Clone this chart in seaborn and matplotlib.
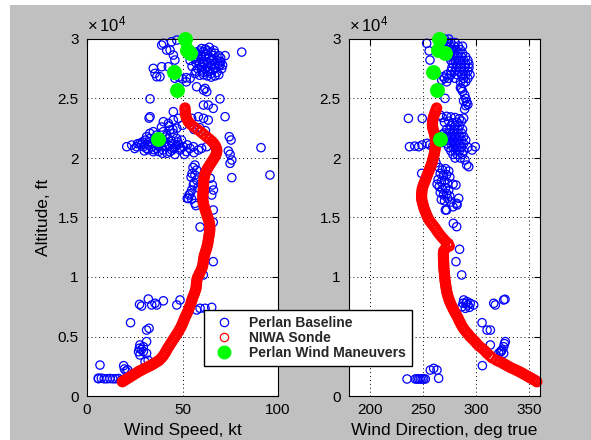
import matplotlib
matplotlib.use("Agg")
import matplotlib.pyplot as plt
from matplotlib.lines import Line2D
from matplotlib.patches import Rectangle
import seaborn as sns

# ---------------- data ----------------
# NIWA radiosonde profile: altitude (ft), wind speed (kt), wind direction (deg true)
sonde_alt = [
    1200, 1300, 1400, 1500, 1600, 1700, 1800, 1900, 2000, 2100,
    2200, 2300, 2400, 2500, 2600, 2700, 2800, 2900, 3000, 3200,
    3400, 3600, 3800, 4000, 4200, 4400, 4600, 4800, 5000, 5200,
    5400, 5600, 5800, 6000, 6200, 6400, 6600, 6800, 7000, 7200,
    7400, 7600, 7800, 8000, 8200, 8400, 8600, 8800, 9000, 9200,
    9400, 9600, 9800, 10000, 10200, 10400, 10600, 10800, 11000, 11200,
    11400, 11600, 11800, 12000, 12200, 12400, 12600, 12800, 13000, 13200,
    13400, 13600, 13800, 14000, 14200, 14400, 14600, 14800, 15000, 15200,
    15400, 15600, 15800, 16000, 16200, 16400, 16600, 16800, 17000, 17200,
    17400, 17600, 17800, 18000, 18200, 18400, 18600, 18800, 19000, 19200,
    19400, 19600, 19800, 20000, 20200, 20400, 20600, 20800, 21000, 21200,
    21400, 21600, 21800, 22000, 22200, 22400, 22600, 22800, 23000, 23200,
    23400, 23600, 23800, 24000, 24200]
sonde_speed = [
    18.5, 19.5, 20.5, 21.5, 22.5, 23.5, 24.5, 25.5, 26.5, 27.5,
    28.8, 30.0, 31.3, 32.5, 33.7, 34.8, 35.8, 36.8, 37.8, 39.0,
    40.0, 40.8, 41.5, 42.2, 43.0, 43.8, 44.6, 45.4, 46.2, 47.0,
    47.8, 48.5, 49.2, 49.8, 50.3, 50.8, 51.3, 51.9, 52.5, 53.0,
    53.5, 54.0, 54.4, 54.8, 55.2, 55.7, 56.2, 56.6, 57.0, 57.2,
    57.3, 57.4, 57.6, 58.0, 58.6, 59.2, 59.8, 60.3, 60.6, 60.8,
    61.0, 61.2, 61.4, 61.8, 62.2, 62.6, 62.9, 63.2, 63.4, 63.6,
    63.8, 64.0, 64.2, 64.3, 64.3, 64.2, 64.0, 63.6, 63.2, 62.8,
    62.4, 62.0, 61.6, 61.2, 60.9, 60.7, 60.6, 60.6, 60.7, 60.8,
    60.9, 61.0, 61.0, 61.1, 61.2, 61.4, 61.7, 62.1, 62.7, 63.4,
    64.2, 65.0, 65.8, 66.6, 67.3, 67.8, 68.0, 67.8, 67.3, 66.5,
    65.4, 64.0, 62.5, 61.0, 59.5, 57.8, 56.0, 54.5, 53.3, 52.5,
    52.0, 51.7, 51.5, 51.4, 51.3]
sonde_dir = [
    357.0, 355.5, 353.5, 351.5, 349.5, 347.5, 345.5, 343.5, 341.5, 339.3,
    337.0, 334.5, 332.0, 330.0, 328.0, 326.0, 324.0, 321.5, 319.0, 315.0,
    312.5, 310.0, 308.0, 305.5, 302.5, 300.5, 298.5, 296.3, 294.0, 292.3,
    290.3, 288.5, 287.0, 285.8, 284.6, 283.5, 282.5, 281.3, 280.0, 278.8,
    277.7, 276.6, 275.6, 274.7, 273.9, 273.2, 272.6, 272.1, 271.7, 271.3,
    271.0, 270.7, 270.4, 270.2, 270.0, 269.8, 269.6, 269.4, 269.3, 269.2,
    269.1, 269.0, 269.0, 269.0, 269.3, 271.0, 274.5, 273.5, 271.0, 269.0,
    267.0, 265.2, 263.5, 262.0, 260.5, 258.8, 257.0, 255.5, 254.2, 253.2,
    252.3, 251.4, 250.6, 250.0, 249.4, 248.8, 248.5, 248.4, 248.5, 248.7,
    249.0, 249.6, 250.4, 251.3, 252.2, 253.0, 253.9, 254.8, 255.7, 256.6,
    257.4, 258.1, 258.8, 259.4, 260.0, 260.5, 260.9, 261.2, 261.4, 261.5,
    261.5, 261.4, 261.1, 260.6, 260.0, 259.3, 258.8, 258.6, 258.7, 259.0,
    259.5, 260.2, 261.0, 261.8, 262.6]

# Perlan baseline measurements: (wind speed kt, altitude ft)
baseline_speed_pts = [
    (6.0, 1450), (7.5, 1500), (9.0, 1450), (10.5, 1450), (12.0, 1470), (13.5, 1450),
    (15.0, 1450), (16.5, 1470), (18.0, 1350), (6.8, 2600), (19.2, 2550), (19.6, 2270),
    (20.5, 2100), (21.3, 2200), (5.9, 1500),
    (30.4, 2880), (32.0, 3000), (27.7, 3450), (27.0, 3720), (29.5, 3730), (27.4, 4010),
    (29.5, 4140), (27.7, 4290), (31.2, 4570), (31.2, 5540), (32.5, 5690), (22.8, 6160),
    (31.2, 3590), (28.5, 3900),
    (28.6, 7560), (32.1, 8150), (33.9, 7650), (35.6, 7790), (36.5, 7650), (40.0, 8000),
    (47.0, 7650), (48.7, 8070), (57.4, 7230), (59.2, 7370), (61.8, 7370), (65.3, 7450),
    (27.5, 7700),
    (60.9, 10170), (66.1, 11290), (59.2, 14200), (66.1, 14600), (66.1, 15630),
    (56.5, 19410), (57.4, 18990), (56.5, 18570), (57.4, 18150), (55.7, 17730),
    (54.8, 17310), (53.4, 16890), (54.8, 16550), (56.5, 16190), (55.0, 18700),
    (54.0, 17000), (53.0, 16600), (58.0, 17500), (57.0, 16000), (55.5, 19200),
    (52.5, 16610), (56.0, 17900), (54.5, 18400), (65.6, 17730), (66.2, 17310),
    (65.3, 16890), (64.5, 18300),
    (74.5, 21790), (75.4, 21510), (74.0, 20590), (74.9, 20310), (75.8, 19830),
    (74.9, 19550), (75.8, 18350), (91.1, 20870), (95.8, 18570),
    (20.8, 20950), (23.4, 21090), (26.0, 20950), (27.7, 21230), (29.5, 20950),
    (31.2, 20810), (32.9, 21370), (33.8, 20950), (34.7, 20530), (36.5, 20810),
    (38.2, 21230), (39.9, 20670), (41.7, 20950), (43.4, 20530), (45.2, 20810),
    (46.9, 21090), (48.7, 20670), (50.4, 20950), (52.2, 20530), (53.9, 20810),
    (55.7, 20950), (58.3, 20670), (60.0, 20810), (62.7, 20950),
    (31.2, 21790), (32.9, 22070), (34.7, 22210), (36.5, 21930), (38.2, 21650),
    (39.9, 22210), (41.7, 21930), (43.4, 22350), (45.2, 22070), (46.9, 21650),
    (28.5, 21100), (30.5, 21500), (35.5, 21400), (37.5, 21000), (40.5, 21300),
    (42.5, 21600), (44.5, 21200), (47.5, 21350), (49.5, 21500), (25.0, 20800),
    (30.0, 20600), (35.0, 20700), (42.0, 20400), (46.0, 20300), (51.0, 20300),
    (56.0, 20450),
    (26.5, 21200), (29.0, 21350), (31.5, 21150), (33.0, 21650), (34.0, 21200),
    (36.0, 21550), (37.0, 21250), (39.0, 20950), (40.0, 21500), (41.0, 21750),
    (43.0, 21050), (44.0, 21450), (46.0, 20900), (48.0, 21150), (32.0, 20700),
    (37.5, 20550), (39.5, 20400), (44.5, 20650), (49.0, 20850), (52.5, 21100),
    (39.0, 22600), (43.0, 22700), (47.0, 22500), (50.0, 22750), (45.0, 22400),
    (56.0, 22400), (59.0, 22550), (62.0, 22300),
    (33.0, 23470), (32.5, 23350), (40.0, 23050), (42.6, 22910), (45.2, 23190),
    (47.8, 23330), (54.8, 23330), (58.3, 23470), (61.0, 23330), (63.5, 23190),
    (72.3, 23470), (45.2, 23890),
    (57.0, 28900), (59.0, 29000), (61.0, 28950), (63.0, 29000), (65.0, 28900),
    (67.0, 28800), (69.0, 28600), (56.0, 28500), (58.0, 28400), (60.0, 28300),
    (62.0, 28500), (64.0, 28400), (66.0, 28300), (68.0, 28200), (70.0, 28100),
    (57.0, 28000), (59.0, 27900), (61.0, 27950), (63.0, 28000), (65.0, 27800),
    (67.0, 27900), (69.0, 27700), (70.5, 27500), (58.0, 27500), (60.0, 27400),
    (62.0, 27500), (64.0, 27300), (66.0, 27400), (68.0, 27200), (56.5, 27100),
    (59.0, 26950), (61.0, 27000), (63.0, 26900), (65.0, 26800), (67.0, 26900),
    (60.0, 29200), (64.0, 29300), (55.0, 27700), (54.0, 28200),
    (58.0, 28700), (62.0, 28750), (66.0, 28600), (70.0, 28400), (57.5, 28200),
    (61.0, 28100), (65.0, 28150), (69.0, 27950), (60.0, 27700), (63.0, 27650),
    (67.0, 27550), (71.0, 27800), (57.0, 27300), (61.0, 27200), (65.0, 27100),
    (69.0, 27000), (63.0, 27250), (59.5, 28600), (66.5, 29050), (62.0, 29150),
    (46.0, 26700), (48.0, 26800), (50.0, 26650), (52.0, 26750), (54.0, 26700),
    (40.0, 29640), (44.3, 29770), (47.0, 29910), (43.5, 29070), (45.2, 28650),
    (46.0, 28230), (42.6, 27670), (46.1, 27390), (34.7, 27530), (35.6, 27110),
    (36.5, 26830), (39.1, 27670), (38.2, 26830), (81.0, 28900), (72.3, 28600),
    (69.6, 27810), (57.4, 25990), (61.0, 25710), (61.8, 25850), (62.7, 25570),
    (33.0, 24970), (69.6, 24970), (63.5, 24450), (66.1, 24170), (61.0, 24450),
    (41.7, 29070), (39.1, 29490), (52.0, 26400),
]

# Perlan baseline measurements: (wind direction deg, altitude ft)
baseline_dir_pts = [
    (234.7, 1430), (242.5, 1430), (244.2, 1430), (245.7, 1430), (247.2, 1430),
    (248.8, 1430), (250.4, 1430), (251.9, 1430), (256.6, 2180), (259.8, 2320),
    (262.9, 2180), (264.5, 1490),
    (305.7, 2550), (313.2, 4290), (327.3, 4570), (325.8, 4140), (324.2, 3870),
    (322.6, 3720), (325.8, 3590), (321.1, 3590), (305.4, 6160), (310.1, 5540),
    (313.2, 5540), (326.5, 4400), (323.5, 3750),
    (288.1, 8070), (291.2, 7930), (294.3, 7790), (286.5, 7500), (289.6, 7370),
    (297.5, 7650), (292.0, 7650), (290.0, 7800), (316.4, 7790), (317.9, 7650),
    (325.8, 8070), (327.0, 8130), (293.5, 7450), (287.5, 7800),
    (286.2, 10170), (280.8, 11290), (284.2, 12330), (278.3, 14510), (281.5, 14230),
    (265, 19200), (268, 19000), (271, 19100), (274, 18900), (266, 18700),
    (269, 18500), (272, 18600), (275, 18400), (264, 18200), (267, 18000),
    (270, 18100), (273, 17900), (265, 17600), (268, 17400), (271, 17500),
    (274, 17300), (266, 17100), (269, 16900), (272, 17000), (275, 16800),
    (267, 16500), (270, 16400), (273, 16600), (276, 16300), (278, 17800),
    (280.8, 17730), (281.5, 16190), (283.4, 16610), (281.8, 16050), (270.8, 15630),
    (272, 15630), (278, 15900), (248.5, 18710), (289.3, 19830), (290.9, 19410),
    (292.8, 19270), (262, 19600), (263, 17800),
    (276, 22700), (280, 22700), (284, 22700),
    (272, 22400), (275, 22400), (279, 22400), (283, 22400), (287, 22400),
    (270, 22100), (274, 22100), (278, 22100), (282, 22100), (286, 22100),
    (272, 21800), (276, 21800), (280, 21800), (284, 21800), (288, 21800),
    (270, 21500), (274, 21500), (278, 21500), (282, 21500), (286, 21500), (290, 21500),
    (272, 21200), (276, 21200), (280, 21200), (284, 21200), (288, 21200),
    (274, 20900), (278, 20900), (282, 20900), (286, 20900), (292, 20900),
    (276, 20600), (280, 20600), (284, 20600), (288, 20600),
    (278, 20300), (282, 20300), (287, 20300), (280, 20000), (285, 20000),
    (237, 20950), (242, 21000), (245.7, 20950), (248.8, 21090), (253.5, 21230),
    (256, 21100), (259, 21000), (299, 20950), (296, 20670), (268, 22000), (267, 21300),
    (268, 23400), (272, 23500), (276, 23450), (280, 23400), (284, 23300),
    (288, 23350), (270, 23000), (274, 23100), (278, 22950), (282, 23000),
    (286, 23100), (236, 23330), (249, 23330), (266, 23600),
    (285, 25900), (287, 25600), (289, 25300), (290, 25000), (291, 24700),
    (290, 24400), (289, 24100), (286, 25800), (288, 24800), (292, 24500),
    (270.5, 25010), (287.7, 26270),
    (270, 30000), (274, 30000),
    (268, 29700), (272, 29700), (276, 29700), (280, 29700),
    (271, 29400), (275, 29400), (279, 29400), (283, 29400), (287, 29400),
    (273, 29100), (277, 29100), (281, 29100), (285, 29100),
    (275, 28800), (279, 28800), (283, 28800), (287, 28800),
    (274, 28500), (278, 28500), (282, 28500), (286, 28500), (290, 28500),
    (276, 28200), (280, 28200), (284, 28200), (288, 28200), (292, 28200),
    (278, 27900), (282, 27900), (286, 27900), (290, 27900), (293, 27900),
    (277, 27600), (281, 27600), (285, 27600), (289, 27600), (293, 27600),
    (276, 27300), (280, 27300), (284, 27300), (288, 27300), (292, 27300),
    (272, 27000), (276, 27000), (282, 27000), (286, 27000), (290, 27000), (294, 27000),
    (270, 26700), (274, 26700), (280, 26700), (288, 26700), (292, 26700),
    (272, 26400), (285, 26400), (290, 26400),
    (253.2, 29640), (256.3, 28230), (255.5, 29000), (267.4, 26550), (269, 26830),
]

# Perlan wind maneuvers
maneuver_alt = [30000, 29100, 28800, 27200, 25700, 21600]
maneuver_speed = [51.5, 52.5, 54.0, 45.5, 47.0, 37.0]
maneuver_dir = [264.5, 263.5, 270.5, 259.5, 263.0, 265.5]

alt_ticks = [0, 5000, 10000, 15000, 20000, 25000, 30000]
alt_tick_labels = ["0", "0.5", "1", "1.5", "2", "2.5", "3"]
speed_ticks = [0, 50, 100]
dir_ticks = [200, 250, 300, 350]
legend_labels = ["Perlan Baseline", "NIWA Sonde", "Perlan Wind Maneuvers"]

# ---------------- style ----------------
sns.set_style("white")
plt.rcParams["font.family"] = ["Liberation Sans", "DejaVu Sans"]

W, H = 591, 440
fig = plt.figure(figsize=(W / 100, H / 100), dpi=100, facecolor="white")
fig.add_artist(Rectangle((10 / W, 0), 1, 1 - 5 / H, transform=fig.transFigure,
                         facecolor="#c0c0c0", edgecolor="none", zorder=-10))

ax_l = fig.add_axes([87 / W, 44 / H, 191 / W, 357 / H])
ax_r = fig.add_axes([349 / W, 44 / H, 191 / W, 357 / H])

BLUE = (0, 0, 1)
RED = (1, 0, 0)
GREEN = (0, 1, 0)


def open_scatter(ax, x, y, color, size, lw):
    sns.scatterplot(x=x, y=y, ax=ax, s=size, marker="o", color=color,
                    linewidth=lw, legend=False, zorder=2)
    coll = ax.collections[-1]
    coll.set_facecolor("none")
    coll.set_edgecolor(color)
    coll.set_clip_on(False)


def filled_scatter(ax, x, y):
    sns.scatterplot(x=x, y=y, ax=ax, s=95, marker="o", color=GREEN,
                    linewidth=1.0, legend=False, zorder=3)
    coll = ax.collections[-1]
    coll.set_facecolor(GREEN)
    coll.set_edgecolor(GREEN)
    coll.set_clip_on(False)


bs_x = [p[0] for p in baseline_speed_pts]
bs_y = [p[1] for p in baseline_speed_pts]
bd_x = [p[0] for p in baseline_dir_pts]
bd_y = [p[1] for p in baseline_dir_pts]

open_scatter(ax_l, bs_x, bs_y, BLUE, 36, 0.9)
open_scatter(ax_l, sonde_speed, sonde_alt, RED, 40, 1.8)
filled_scatter(ax_l, maneuver_speed, maneuver_alt)

open_scatter(ax_r, bd_x, bd_y, BLUE, 36, 0.9)
open_scatter(ax_r, sonde_dir, sonde_alt, RED, 40, 1.8)
filled_scatter(ax_r, maneuver_dir, maneuver_alt)

for ax, xt, xl, xlabel in [
    (ax_l, speed_ticks, (0, 100), "Wind Speed, kt"),
    (ax_r, dir_ticks, (180, 360), "Wind Direction, deg true"),
]:
    ax.set_facecolor("white")
    ax.set_xlim(*xl)
    ax.set_ylim(0, 30000)
    ax.set_xticks(xt)
    ax.set_xticklabels([str(t) for t in xt])
    ax.set_yticks(alt_ticks)
    ax.set_yticklabels(alt_tick_labels)
    ax.tick_params(axis="both", direction="in", length=4, width=0.8,
                   top=True, right=True, labelsize=11, colors="black")
    ax.tick_params(axis="x", pad=5)
    ax.tick_params(axis="y", pad=6)
    ax.grid(True, color="black", linestyle=(0, (1, 3)), linewidth=0.7)
    ax.set_axisbelow(True)
    for sp in ax.spines.values():
        sp.set_color("black")
        sp.set_linewidth(0.8)
    ax.set_xlabel(xlabel, fontsize=12.5, color="black", labelpad=4)
    ax.text(0, 1.012, r"$\mathregular{\times\,10^{4}}$", transform=ax.transAxes,
            ha="left", va="bottom", fontsize=12, color="black")

# the legend box sits over the right panel's 0.5 label, so leave that one blank
ax_r.set_yticklabels(["" if lab == "0.5" else lab for lab in alt_tick_labels])

ax_l.set_ylabel("Altitude, ft", fontsize=12.5, color="black", labelpad=5)
ax_r.set_ylabel("")

handles = [
    Line2D([], [], ls="none", marker="o", ms=6, mfc="none", mec=BLUE, mew=0.9),
    Line2D([], [], ls="none", marker="o", ms=6, mfc="none", mec=RED, mew=0.9),
    Line2D([], [], ls="none", marker="o", ms=9, mfc=GREEN, mec=GREEN, mew=1.0),
]
leg = fig.legend(handles, legend_labels, loc="upper left",
                 bbox_to_anchor=(204 / W, 1 - 310 / H), bbox_transform=fig.transFigure,
                 frameon=True, fancybox=False, framealpha=1, edgecolor="black",
                 prop={"weight": "bold", "size": 10}, handlelength=2.0,
                 handletextpad=0.8, borderpad=0.45, labelspacing=0.05, borderaxespad=0)
leg.get_frame().set_linewidth(1.0)

fig.savefig("out.png", dpi=100, facecolor=fig.get_facecolor())
